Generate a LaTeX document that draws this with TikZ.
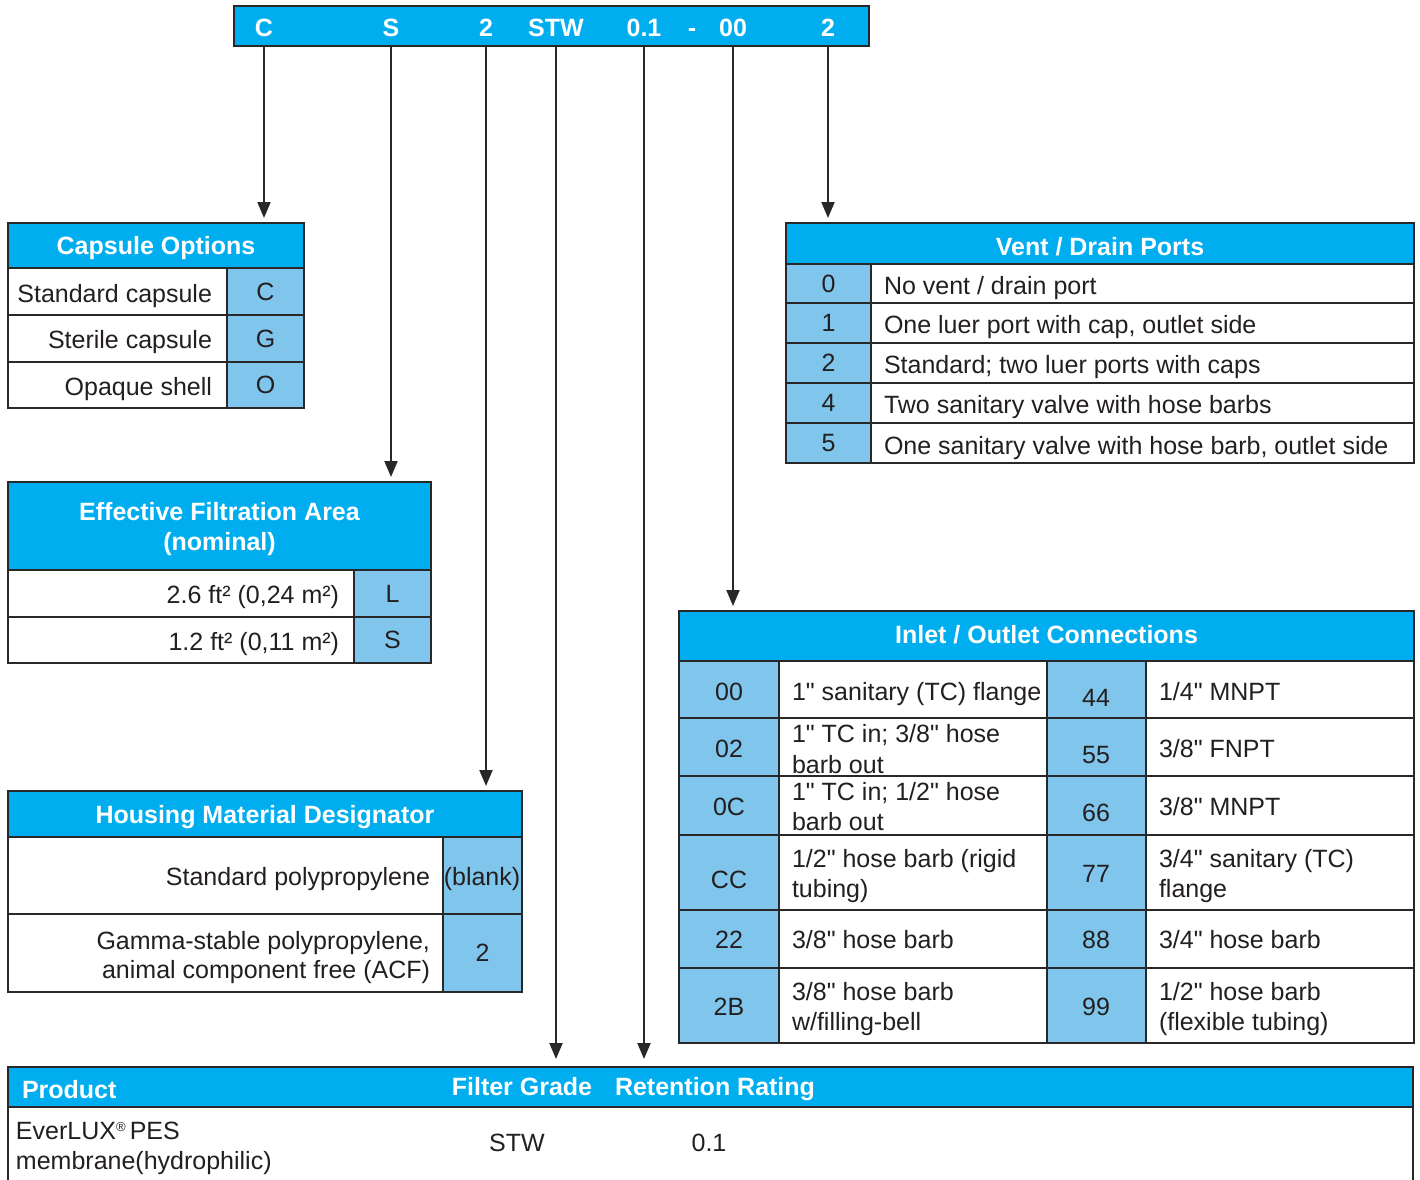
\documentclass[tikz,border=0pt]{standalone}
\usepackage{fontspec}
\setmainfont{Liberation Sans}[Ligatures=TeXOff]
\usetikzlibrary{fit,arrows.meta,calc}
\definecolor{hdr}{RGB}{0,174,239}
\definecolor{codec}{RGB}{128,198,236}
\definecolor{bord}{RGB}{40,40,40}
\definecolor{ink}{RGB}{35,31,32}
\newcommand\bodyfs{\fontsize{25}{30.5}\selectfont}
\newcommand\headfs{\fontsize{25}{30.5}\selectfont\bfseries}
% style, name, x1, y1, x2, y2, text
\newcommand\tcell[7]{\node[#1,fit={(#3,#4)(#5,#6)}] (#2) {};
  \node[#1 text] (#2-t) at (#2.center) {#7};}
\begin{document}
\begin{tikzpicture}[x=1pt,y=-1pt,
 cellbox/.style={draw=bord,line width=1.6pt,inner sep=0pt,outer sep=0pt},
 hd/.style={cellbox,fill=hdr},
 hdi/.style={cellbox,fill=hdr},
 cd/.style={cellbox,fill=codec},
 wt/.style={cellbox,fill=white},
 hd text/.style={inner sep=0pt,font=\headfs,text=white,align=center,yshift=-3pt},
 hdi text/.style={inner sep=0pt,font=\headfs,text=white,align=center,yshift=1pt},
 cd text/.style={inner sep=0pt,font=\bodyfs,text=ink,align=center},
 wt text/.style={inner sep=0pt,font=\bodyfs,text=ink},
 txt/.style={inner sep=0pt,outer sep=0pt,font=\bodyfs,text=ink},
 htxt/.style={inner sep=0pt,outer sep=0pt,font=\headfs,text=white},
 arr/.style={draw=bord,line width=2pt,shorten >=5pt,-{Triangle[length=16pt,width=13pt]}},
]
\useasboundingbox (0,0) rectangle (1420,1179);
\clip (0,0) rectangle (1420,1179);
\fill[white] (0,0) rectangle (1420,1179);

% ---------- code bar ----------
\tcell{hd}{bar}{234}{6}{869}{46}{}
\node[htxt,anchor=base] (lC)   at (264,36) {C};
\node[htxt,anchor=base] (lS)   at (391,36) {S};
\node[htxt,anchor=base] (l2)   at (486,36) {2};
\node[htxt,anchor=base] (lSTW) at (556,36) {STW};
\node[htxt,anchor=base] (l01)  at (644,36) {0.1};
\node[htxt,anchor=base] (ldash) at (692,36) {-};
\node[htxt,anchor=base] (l00)  at (733,36) {00};
\node[htxt,anchor=base] (lV)   at (828,36) {2};

% ---------- Capsule Options ----------
\tcell{hd}{capH}{8}{223}{304}{268}{Capsule Options}
\tcell{wt}{cap1}{8}{268}{227}{315}{}
\tcell{cd}{cap1c}{227}{268}{304}{315}{C}
\tcell{wt}{cap2}{8}{315}{227}{362}{}
\tcell{cd}{cap2c}{227}{315}{304}{362}{G}
\tcell{wt}{cap3}{8}{362}{227}{408}{}
\tcell{cd}{cap3c}{227}{362}{304}{408}{O}
\node[txt,anchor=base east] (capt1) at (212,302) {Standard capsule};
\node[txt,anchor=base east] (capt2) at (212,348) {Sterile capsule};
\node[txt,anchor=base east] (capt3) at (212,395) {Opaque shell};

% ---------- Effective Filtration Area ----------
\tcell{hd}{efaH}{8}{482}{431}{570}{Effective Filtration Area\\(nominal)}
\tcell{wt}{efa1}{8}{570}{354}{617}{}
\tcell{cd}{efa1c}{354}{570}{431}{617}{L}
\tcell{wt}{efa2}{8}{617}{354}{663}{}
\tcell{cd}{efa2c}{354}{617}{431}{663}{S}
\node[txt,anchor=base east] (efat1) at (339,603) {2.6 ft² (0,24 m²)};
\node[txt,anchor=base east] (efat2) at (339,650) {1.2 ft² (0,11 m²)};

% ---------- Housing Material Designator ----------
\tcell{hd}{hmH}{8}{791}{522}{837}{Housing Material Designator}
\tcell{wt}{hm1}{8}{837}{443}{914}{}
\tcell{cd}{hm1c}{443}{837}{522}{914}{}
\node[txt,anchor=base] (hm1c-b) at (482,885) {(blank)};
\tcell{wt}{hm2}{8}{914}{443}{992}{}
\tcell{cd}{hm2c}{443}{914}{522}{992}{2}
\node[txt,anchor=base east] (hmt1) at (430,885) {Standard polypropylene};
\node[txt,anchor=base east] (hmt2a) at (430,949) {Gamma-stable polypropylene,};
\node[txt,anchor=base east] (hmt2b) at (430,978) {animal component free (ACF)};

% ---------- Vent / Drain Ports ----------
\tcell{hd}{vdH}{786}{223}{1414}{264}{Vent / Drain Ports}
\tcell{cd}{vd0c}{786}{264}{871}{303}{0}
\tcell{wt}{vd0}{871}{264}{1414}{303}{}
\tcell{cd}{vd1c}{786}{303}{871}{343}{1}
\tcell{wt}{vd1}{871}{303}{1414}{343}{}
\tcell{cd}{vd2c}{786}{343}{871}{383}{2}
\tcell{wt}{vd2}{871}{343}{1414}{383}{}
\tcell{cd}{vd4c}{786}{383}{871}{423}{4}
\tcell{wt}{vd4}{871}{383}{1414}{423}{}
\tcell{cd}{vd5c}{786}{423}{871}{463}{5}
\tcell{wt}{vd5}{871}{423}{1414}{463}{}
\node[txt,anchor=base west] (vdt0) at (884,294) {No vent / drain port};
\node[txt,anchor=base west] (vdt1) at (884,333) {One luer port with cap, outlet side};
\node[txt,anchor=base west] (vdt2) at (884,373) {Standard; two luer ports with caps};
\node[txt,anchor=base west] (vdt4) at (884,413) {Two sanitary valve with hose barbs};
\node[txt,anchor=base west] (vdt5) at (884,454) {One sanitary valve with hose barb, outlet side};

% ---------- Inlet / Outlet Connections ----------
\tcell{hdi}{ioH}{679}{611}{1414}{661}{Inlet / Outlet Connections}
\foreach \ya/\yb [count=\i] in {661/718,718/776,776/835,835/910,910/968,968/1043}{
  \tcell{cd}{ioA\i}{679}{\ya}{779}{\yb}{}
  \tcell{wt}{ioB\i}{779}{\ya}{1047}{\yb}{}
  \tcell{cd}{ioC\i}{1047}{\ya}{1146}{\yb}{}
  \tcell{wt}{ioD\i}{1146}{\ya}{1414}{\yb}{}
}
% left codes
\node[txt,anchor=base] (ioa1) at (729,700) {00};
\node[txt,anchor=base] (ioa2) at (729,757) {02};
\node[txt,anchor=base] (ioa3) at (729,815) {0C};
\node[txt,anchor=base] (ioa4) at (729,888) {CC};
\node[txt,anchor=base] (ioa5) at (729,948) {22};
\node[txt,anchor=base] (ioa6) at (729,1015) {2B};
% left descriptions
\node[txt,anchor=base west] (iob1) at (792,700) {1" sanitary (TC) flange};
\node[txt,anchor=base west] (iob2a) at (792,742) {1" TC in; 3/8" hose};
\node[txt,anchor=base west] (iob2b) at (792,773) {barb out};
\node[txt,anchor=base west] (iob3a) at (792,800) {1" TC in; 1/2" hose};
\node[txt,anchor=base west] (iob3b) at (792,830) {barb out};
\node[txt,anchor=base west] (iob4a) at (792,867) {1/2" hose barb (rigid};
\node[txt,anchor=base west] (iob4b) at (792,897) {tubing)};
\node[txt,anchor=base west] (iob5) at (792,948) {3/8" hose barb};
\node[txt,anchor=base west] (iob6a) at (792,1000) {3/8" hose barb};
\node[txt,anchor=base west] (iob6b) at (792,1030) {w/filling-bell};
% right codes
\node[txt,anchor=base] (ioc1) at (1096,706) {44};
\node[txt,anchor=base] (ioc2) at (1096,763) {55};
\node[txt,anchor=base] (ioc3) at (1096,821) {66};
\node[txt,anchor=base] (ioc4) at (1096,882) {77};
\node[txt,anchor=base] (ioc5) at (1096,948) {88};
\node[txt,anchor=base] (ioc6) at (1096,1015) {99};
% right descriptions
\node[txt,anchor=base west] (iod1) at (1159,700) {1/4" MNPT};
\node[txt,anchor=base west] (iod2) at (1159,757) {3/8" FNPT};
\node[txt,anchor=base west] (iod3) at (1159,815) {3/8" MNPT};
\node[txt,anchor=base west] (iod4a) at (1159,867) {3/4" sanitary (TC)};
\node[txt,anchor=base west] (iod4b) at (1159,897) {flange};
\node[txt,anchor=base west] (iod5) at (1159,948) {3/4" hose barb};
\node[txt,anchor=base west] (iod6a) at (1159,1000) {1/2" hose barb};
\node[txt,anchor=base west] (iod6b) at (1159,1030) {(flexible tubing)};

% ---------- Product table ----------
\tcell{hd}{prH}{8}{1067}{1413}{1107}{}
\tcell{wt}{pr1}{8}{1107}{1413}{1200}{}
\node[htxt,anchor=base west] (prh1) at (22,1098) {Product};
\node[htxt,anchor=base] (prh2) at (522,1095) {Filter Grade};
\node[htxt,anchor=base] (prh3) at (715,1095) {Retention Rating};
\node[txt,anchor=base west] (prt1a) at (16,1139) {EverLUX\raisebox{8pt}{\fontsize{13}{13}\selectfont\textregistered}\,PES};
\node[txt,anchor=base west] (prt1b) at (16,1169) {membrane(hydrophilic)};
\node[txt,anchor=base] (prt2) at (517,1151) {STW};
\node[txt,anchor=base] (prt3) at (709,1151) {0.1};

% ---------- connectors ----------
\draw[arr] (lC |- bar.south) -- (lC |- capH.north);
\draw[arr] (lS |- bar.south) -- (lS |- efaH.north);
\draw[arr] (l2 |- bar.south) -- (l2 |- hmH.north);
\draw[arr,shorten >=8pt] (lSTW |- bar.south) -- (lSTW |- prH.north);
\draw[arr,shorten >=8pt] (l01 |- bar.south) -- (l01 |- prH.north);
\draw[arr] (l00 |- bar.south) -- (l00 |- ioH.north);
\draw[arr] (lV |- bar.south) -- (lV |- vdH.north);
\end{tikzpicture}
\end{document}
